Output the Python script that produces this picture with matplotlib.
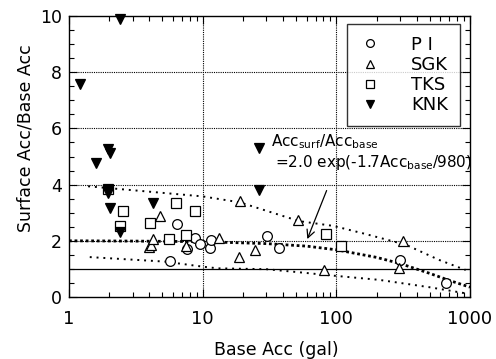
import matplotlib
matplotlib.use("Agg")
import matplotlib.pyplot as plt
from matplotlib.ticker import FixedLocator, LogLocator, NullFormatter, MultipleLocator

# ---- data ----
pi_x = [5.67, 6.48, 7.7, 8.8, 9.5, 11.3, 11.6, 30.5, 37.0, 298, 666]
pi_y = [1.28, 2.61, 1.72, 2.10, 1.90, 1.76, 2.04, 2.16, 1.76, 1.32, 0.51]

sgk_x = [3.95, 4.1, 4.26, 4.83, 7.45, 13.2, 18.7, 18.9, 24.7, 52.1, 81.2, 292, 316]
sgk_y = [1.78, 1.85, 2.07, 2.90, 1.82, 2.09, 1.42, 3.40, 1.69, 2.73, 0.96, 1.02, 2.01]

tks_x = [1.96, 2.40, 2.54, 4.02, 5.57, 6.28, 7.55, 8.74, 83.8, 108]
tks_y = [3.85, 2.54, 3.05, 2.65, 2.07, 3.35, 2.19, 3.05, 2.25, 1.82]

knk_x = [1.21, 1.58, 1.96, 2.04, 1.96, 1.96, 2.04, 2.40, 2.42, 4.26, 26.2, 26.6]
knk_y = [7.57, 4.77, 5.25, 5.13, 3.82, 3.70, 3.17, 9.9, 2.33, 3.35, 3.82, 5.32]

# fitted curve Acc_surf/Acc_base = 2.0 exp(-1.7 Acc_base/980)
fit_x = [1, 3, 10, 30, 60, 100, 200, 300, 500, 700, 1000]
fit_y = [2.0, 1.99, 1.97, 1.90, 1.81, 1.68, 1.41, 1.19, 0.84, 0.59, 0.35]

# upper / lower envelopes
up_x = [1.39, 3.0, 10.0, 18.9, 52.7, 95.0, 157, 331, 587, 929]
up_y = [3.94, 3.80, 3.58, 3.37, 2.70, 2.53, 2.27, 1.86, 1.32, 0.96]
lo_x = [1.43, 5.2, 10.0, 13.0, 29.9, 52.7, 90.0, 209, 494, 929]
lo_y = [1.42, 1.26, 1.08, 1.02, 0.99, 0.88, 0.77, 0.61, 0.35, 0.13]

x_ticks = [1, 10, 100, 1000]
x_ticklabels = ["1", "10", "100", "1000"]
y_ticks = [0, 2, 4, 6, 8, 10]

fig = plt.figure(figsize=(4.96, 3.59), dpi=100)
ax = fig.add_axes([69/496, 62/359, 401/496, 281/359])
ax.set_xscale("log")
ax.set_xlim(1, 1000)
ax.set_ylim(0, 10)

# grid
for gx in [10, 100]:
    ax.axvline(gx, color="k", lw=0.8, ls=(0, (1, 1)), zorder=1)
for gy in [2, 4, 6, 8]:
    ax.axhline(gy, color="k", lw=0.8, ls=(0, (1, 1)), zorder=1)
ax.axhline(1, color="k", lw=0.9, zorder=1)

ax.plot(fit_x, fit_y, color="k", lw=2.0, ls=(0, (1, 1)), zorder=2)
ax.plot(up_x, up_y, color="k", lw=1.4, ls=(0, (1, 2.5)), zorder=2)
ax.plot(lo_x, lo_y, color="k", lw=1.4, ls=(0, (1, 2.5)), zorder=2)

ms = 7
ax.plot(pi_x, pi_y, "o", ms=ms, mfc="white", mec="k", mew=0.9, ls="none", label="P I", zorder=3)
ax.plot(sgk_x, sgk_y, "^", ms=ms, mfc="white", mec="k", mew=0.9, ls="none", label="SGK", zorder=3)
ax.plot(tks_x, tks_y, "s", ms=ms-0.5, mfc="white", mec="k", mew=0.9, ls="none", label="TKS", zorder=3)
ax.plot(knk_x, knk_y, "v", ms=ms, mfc="k", mec="k", mew=0.9, ls="none", label="KNK", zorder=4, clip_on=False)

ax.annotate("", xy=(59.6, 1.97), xytext=(86.1, 3.88),
            arrowprops=dict(arrowstyle="->", color="k", lw=0.9, mutation_scale=14))
ax.text(32.2, 5.36, r"Acc$_{\mathregular{surf}}$/Acc$_{\mathregular{base}}$",
        fontsize=11, va="baseline", ha="left")
ax.text(34.5, 4.64, r"=2.0 exp(-1.7Acc$_{\mathregular{base}}$/980)",
        fontsize=11, va="baseline", ha="left")

ax.xaxis.set_major_locator(FixedLocator(x_ticks))
ax.set_xticklabels(x_ticklabels)
ax.xaxis.set_minor_locator(LogLocator(base=10, subs=range(2, 10)))
ax.xaxis.set_minor_formatter(NullFormatter())
ax.yaxis.set_major_locator(FixedLocator(y_ticks))
ax.yaxis.set_minor_locator(MultipleLocator(0.5))
ax.tick_params(which="both", direction="in", top=True, right=True, color="k")
ax.tick_params(which="major", length=6, width=0.8)
ax.tick_params(which="minor", length=3.5, width=0.8)
ax.tick_params(axis="x", labelsize=13, pad=9)
ax.tick_params(axis="y", labelsize=12.5, pad=5)
for s in ax.spines.values():
    s.set_linewidth(1.0)

fig.text(276/496, 1 - 350/359, "Base Acc (gal)", fontsize=12.5, ha="center", va="center")
fig.text(26/496, 1 - 138/359, "Surface Acc/Base Acc", fontsize=12.5, ha="center",
         va="center", rotation=90)

leg = ax.legend(loc="upper right", bbox_to_anchor=(0.975, 0.9715), fontsize=13,
                frameon=True, fancybox=False, edgecolor="k", handlelength=1.2,
                handletextpad=1.7, labelspacing=0.12, borderpad=0.65, markerscale=0.8,
                borderaxespad=0)
leg.get_frame().set_linewidth(1.0)

fig.savefig("out.png", dpi=100)
